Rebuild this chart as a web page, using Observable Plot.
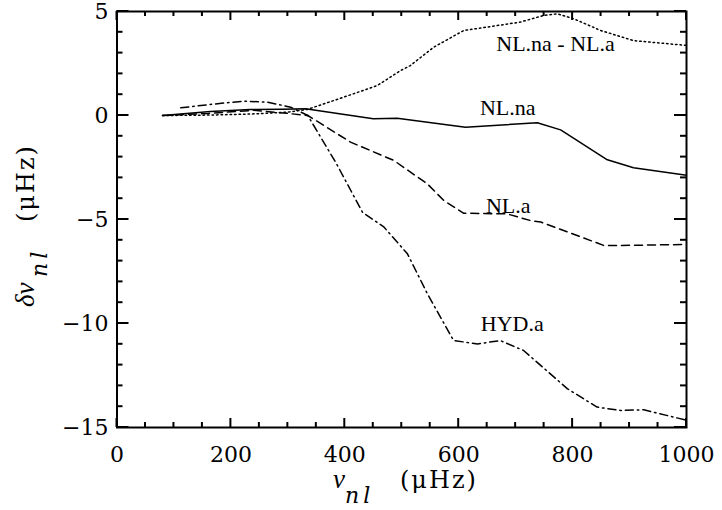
<!DOCTYPE html>
<html><head><meta charset="utf-8">
<script src="https://cdn.jsdelivr.net/npm/d3@7"></script>
<script src="https://cdn.jsdelivr.net/npm/@observablehq/plot@0.6"></script>
<style>
body{margin:0;background:#fff}
#chart svg{display:block}
#chart svg text{font-family:"Liberation Serif",serif}
#chart g[aria-label$="tick label"] text{font-family:"DejaVu Serif",serif}
</style></head><body><div id="chart"></div>
<script>
// NL.na (solid)
const nuNLna = [80,164,234,290,331,450,492,612,738,779,861,907,1000];
const dNLna  = [0,0.19,0.29,0.30,0.33,-0.16,-0.13,-0.56,-0.35,-0.69,-2.13,-2.51,-2.87];
// NL.a (dashed)
const nuNLa = [80,160,240,300,335,410,486,545,574,609,685,726,744,855,884,1000];
const dNLa  = [0,0.1,0.25,0.1,0,-1.28,-2.16,-3.29,-4.09,-4.70,-4.73,-5.05,-5.12,-6.25,-6.25,-6.2];
// HYD.a (dash-dot)
const nuHYD = [112,170,222,264,305,335,385,431,469,510,545,591,633,673,714,791,843,884,925,1000];
const dHYD  = [0.37,0.55,0.69,0.64,0.40,0,-2.3,-4.65,-5.37,-6.65,-8.57,-10.82,-10.98,-10.82,-11.30,-13.14,-14.02,-14.18,-14.15,-14.65];
// NL.na - NL.a (dotted)
const nuDiff = [80,160,234,300,334,398,457,498,515,556,609,650,708,749,773,802,849,907,1000];
const dDiff  = [0,0.02,0.07,0.16,0.29,0.88,1.44,2.16,2.40,3.28,4.09,4.25,4.49,4.81,4.89,4.65,4.09,3.6,3.37];
// curve labels
const labelText = ["NL.na - NL.a","NL.na","NL.a","HYD.a"];
const labelNu   = [770,686,687,694];
const labelD    = [3.46,0.34,-4.33,-10.0];
// ticks
const xMajor = [0,200,400,600,800,1000];
const xMinor = [50,100,150,250,300,350,450,500,550,650,700,750,850,900,950];
const yMajor = [-15,-10,-5,0,5];
const yMinor = [-14,-13,-12,-11,-9,-8,-7,-6,-4,-3,-2,-1,1,2,3,4];
const xDomain = [0, 1000];
const yDomain = [-15, 5];

const toRows = (xs, ys) => xs.map((x,i) => ({x, y: ys[i]}));
const labels = labelText.map((t,i) => ({t, x: labelNu[i], y: labelD[i]}));

const W = 722, H = 510, mL = 116.5, mR = 36, mT = 11, mB = 83;
const lw = 1.5;

const chart = Plot.plot({
  width: W, height: H,
  marginLeft: mL, marginRight: mR, marginTop: mT, marginBottom: mB,
  style: {fontFamily: "Liberation Serif", background: "white", color: "black"},
  x: {domain: xDomain},
  y: {domain: yDomain},
  marks: [
    Plot.axisX(xMajor, {anchor: "bottom", tickSize: 0, tickPadding: 19, fontSize: 22,
      tickFormat: d => String(d), label: null}),
    Plot.axisY(yMajor, {anchor: "left", tickSize: 0, tickPadding: 8.5, fontSize: 22,
      tickFormat: d => d < 0 ? "\u2212" + (-d) : String(d), label: null}),
    Plot.line(toRows(nuNLna, dNLna), {x: "x", y: "y", stroke: "black", strokeWidth: lw}),
    Plot.line(toRows(nuNLa, dNLa), {x: "x", y: "y", stroke: "black", strokeWidth: lw, strokeDasharray: "8,5"}),
    Plot.line(toRows(nuHYD, dHYD), {x: "x", y: "y", stroke: "black", strokeWidth: lw, strokeDasharray: "8,4,1.5,4"}),
    Plot.line(toRows(nuDiff, dDiff), {x: "x", y: "y", stroke: "black", strokeWidth: lw, strokeDasharray: "1.5,3"}),
    Plot.text(labels, {x: "x", y: "y", text: "t", fontSize: 22, fill: "black", textAnchor: "middle"}),
    Plot.frame({stroke: "black", strokeWidth: 2})
  ]
});
document.getElementById("chart").appendChild(chart);

const svg = d3.select(chart);
const sx = chart.scale("x"), sy = chart.scale("y");
const X0 = sx.apply(xDomain[0]), X1 = sx.apply(xDomain[1]);
const Y0 = sy.apply(yDomain[0]), Y1 = sy.apply(yDomain[1]);
// inward tick marks on all four sides, positioned with the plot's own scales
const tg = svg.append("g").attr("stroke", "black").attr("stroke-width", 2).attr("fill", "none");
function xt(v, len) {
  const px = sx.apply(v);
  tg.append("line").attr("x1", px).attr("x2", px).attr("y1", Y0).attr("y2", Y0 - len);
  tg.append("line").attr("x1", px).attr("x2", px).attr("y1", Y1).attr("y2", Y1 + len);
}
function yt(v, len) {
  const py = sy.apply(v);
  tg.append("line").attr("y1", py).attr("y2", py).attr("x1", X0).attr("x2", X0 + len);
  tg.append("line").attr("y1", py).attr("y2", py).attr("x1", X1).attr("x2", X1 - len);
}
xMinor.forEach(v => xt(v, 5));
xMajor.forEach(v => xt(v, 9));
yMinor.forEach(v => yt(v, 6));
yMajor.forEach(v => yt(v, 12));

const ital = "'Liberation Serif', serif";
const dvs = "'DejaVu Serif', serif";
// x-axis title: ν_nl (μHz)
const xl = svg.append("text").attr("fill", "black").attr("text-anchor", "start")
  .attr("x", 333).attr("y", 488);
xl.append("tspan").style("font-family", ital).attr("font-style", "italic").attr("font-size", 27).text("ν");
xl.append("tspan").style("font-family", dvs).attr("font-style", "italic").attr("font-size", 22).attr("dy", 15)
  .attr("letter-spacing", 4).text("nl");
xl.append("tspan").style("font-family", dvs).attr("x", 400).attr("dy", -15).attr("font-size", 24)
  .attr("letter-spacing", 2).text("(μHz)");

// y-axis title (rotated)
const yl = svg.append("text").attr("fill", "black").attr("text-anchor", "start")
  .attr("transform", "translate(34,307) rotate(-90)").attr("x", 0).attr("y", 0);
yl.append("tspan").style("font-family", ital).attr("font-style", "italic").attr("font-size", 27).text("δν");
yl.append("tspan").style("font-family", dvs).attr("font-style", "italic").attr("font-size", 22).attr("x", 30).attr("dy", 13)
  .attr("letter-spacing", 4).text("nl");
yl.append("tspan").style("font-family", dvs).attr("x", 85).attr("dy", -13).attr("font-size", 24)
  .attr("letter-spacing", 2).text("(μHz)");
</script></body></html>
